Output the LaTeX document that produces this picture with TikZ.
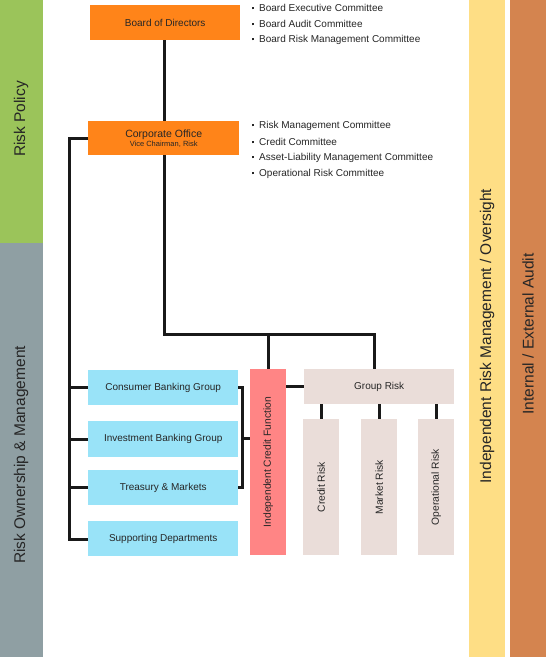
\documentclass[tikz,border=0pt]{standalone}
\usepackage{fontspec}
\setmainfont{Liberation Sans}
\begin{document}
\begin{tikzpicture}[x=1pt,y=-1pt,
  box/.style={draw=none,minimum width=#1,inner sep=0pt,anchor=north west,font=\fontsize{10}{11}\selectfont,text=black!85},
  conn/.style={line width=3pt,draw=black!90},
  band/.style={inner sep=0pt,anchor=north west},
  bandtext/.style={rotate=90,font=\fontsize{15.5}{17}\selectfont,text=black!85},
  bul/.style={anchor=west,inner sep=0pt,font=\fontsize{10}{11}\selectfont,text=black!85},
  vlab/.style={rotate=90,font=\fontsize{10.3}{11}\selectfont,text=black!85}]
\definecolor{cgreen}{HTML}{9BC45A}
\definecolor{cgray}{HTML}{8F9FA3}
\definecolor{cyellow}{HTML}{FEDE85}
\definecolor{cbrown}{HTML}{D4844F}
\definecolor{corange}{HTML}{FF8419}
\definecolor{cblue}{HTML}{99E3F8}
\definecolor{cred}{HTML}{FF8585}
\definecolor{cpink}{HTML}{EADDD9}
\newcommand{\sqb}{\rule[0.22em]{2pt}{2pt}\hspace{5pt}}
\useasboundingbox (0,0) rectangle (546,657);
\fill[white] (0,0) rectangle (546,657);
% bands
\node[band,fill=cgreen,minimum width=43pt,minimum height=243pt] (bpol) at (0,0) {};
\node[band,fill=cgray,minimum width=43pt,minimum height=414pt] (bown) at (0,243) {};
\node[band,fill=cyellow,minimum width=36pt,minimum height=657pt] (bind) at (469,0) {};
\node[band,fill=cbrown,minimum width=36pt,minimum height=657pt] (baud) at (510,0) {};
\node[bandtext] (tpol) at (21,119) {Risk Policy};
\node[bandtext] (town) at (21,455) {Risk Ownership \& Management};
\node[bandtext] (tind) at (487,336) {Independent Risk Management / Oversight};
\node[bandtext] (taud) at (528,334) {Internal / External Audit};
% top boxes
\node[box=150pt,fill=corange,minimum height=35pt] (bod) at (90,5) {Board of Directors};
\node[box=151pt,fill=corange,minimum height=34pt,align=center,font=\fontsize{10.5}{11}\selectfont] (co) at (88,121)
  {Corporate Office\\[-2pt]{\fontsize{7.5}{8}\selectfont Vice Chairman, Risk}};
% bullets
\foreach \t [count=\i] in {Board Executive Committee,Board Audit Committee,Board Risk Management Committee}
  \node[bul] (bb\i) at (252,8+16*\i-16) {\sqb\t};
\foreach \t [count=\i] in {Risk Management Committee,Credit Committee,Asset-Liability Management Committee,Operational Risk Committee}
  \node[bul] (cb\i) at (252,126+16*\i-16) {\sqb\t};
% blue boxes
\node[box=150pt,fill=cblue,minimum height=35pt] (cbg) at (88,370) {Consumer Banking Group};
\node[box=150pt,fill=cblue,minimum height=36pt] (ibg) at (88,421) {Investment Banking Group};
\node[box=150pt,fill=cblue,minimum height=35pt] (tm) at (88,470) {Treasury \& Markets};
\node[box=150pt,fill=cblue,minimum height=35pt] (sd) at (88,521) {Supporting Departments};
% ICF
\node[box=36pt,fill=cred,minimum height=186pt] (icf) at (250,369) {};
\node[vlab] (icft) at (icf.center) {Independent Credit Function};
% group risk
\node[box=150pt,fill=cpink,minimum height=35pt] (gr) at (304,369) {Group Risk};
\node[box=36pt,fill=cpink,minimum height=136pt] (cr) at (303,419) {};
\node[box=36pt,fill=cpink,minimum height=136pt] (mr) at (361,419) {};
\node[box=36pt,fill=cpink,minimum height=136pt] (or) at (418,419) {};
\node[vlab] (crt) at ([yshift=0pt]cr.center) {Credit Risk};
\node[vlab] (mrt) at (mr.center) {Market Risk};
\node[vlab] (ort) at (or.center) {Operational Risk};
% connectors
\coordinate (j1) at (164,334);
\coordinate (j2) at (374,334);
\coordinate (j3) at (268,334);
\coordinate (l1) at (69,138);
\coordinate (l2) at (69,539);
\draw[conn] (bod.south -| j1) -- (co.north -| j1);
\draw[conn] (co.south -| j1) -- (j1) -- (j2) -- (gr.north -| j2);
\draw[conn] (j3) -- (icf.north -| j3);
\draw[conn] (co.west |- l1) -- (l1) -- (l2) -- (sd.west |- l2);
\draw[conn] (l1 |- cbg.west) -- (cbg.west);
\draw[conn] (l1 |- ibg.west) -- (ibg.west);
\draw[conn] (l1 |- tm.west) -- (tm.west);
\coordinate (k) at (242,438);
\draw[conn] (cbg.east) -- (k |- cbg.east) -- (k |- tm.east) -- (tm.east);
\draw[conn] (k) -- (icf.west |- k);
\draw[conn] (icf.east |- gr.west) -- (gr.west);
\foreach \n/\x in {cr/321,mr/379,or/436}
  \draw[conn] (\x,404) -- (\n.north -| {(\x,0)});
\end{tikzpicture}
\end{document}
